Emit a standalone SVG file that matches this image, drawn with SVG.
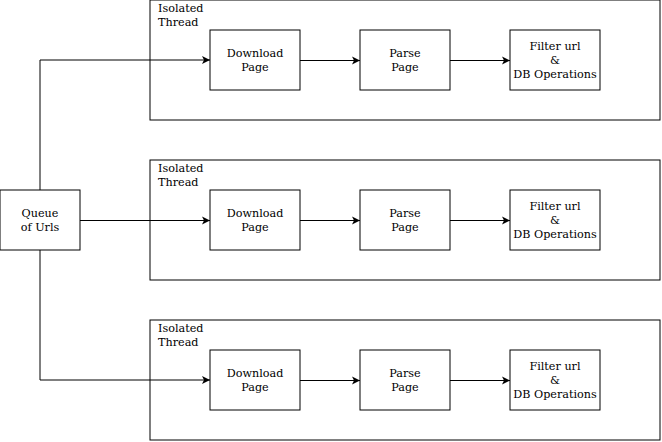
<svg xmlns="http://www.w3.org/2000/svg" width="662" height="442" viewBox="0 0 662 442">
<defs>
<marker id="arr" markerWidth="10" markerHeight="10" refX="8" refY="5" orient="auto" markerUnits="userSpaceOnUse">
<path d="M0,1 L8,5 L0,9 L2,5 Z" fill="#000"/>
</marker>
<style>
.box{fill:#fff;stroke:#000;stroke-width:1}
.cont{fill:none;stroke:#000;stroke-width:1}
.t{font-family:"DejaVu Serif","Liberation Serif",serif;font-size:11.2px;fill:#000}
.c{text-anchor:middle}
.e{fill:none;stroke:#000;stroke-width:1}
</style>
</defs>
<rect width="662" height="442" fill="#fff"/>
<g id="thread1">
<rect class="cont" x="150" y="0" width="510" height="120"/>
<text class="t" x="158" y="12">Isolated</text>
<text class="t" x="158" y="26">Thread</text>
</g>
<g id="thread2">
<rect class="cont" x="150" y="160" width="510" height="120"/>
<text class="t" x="158" y="172">Isolated</text>
<text class="t" x="158" y="186">Thread</text>
</g>
<g id="thread3">
<rect class="cont" x="150" y="320" width="510" height="120"/>
<text class="t" x="158" y="332">Isolated</text>
<text class="t" x="158" y="346">Thread</text>
</g>
<g id="connectors">
<path class="e" d="M40,190 L40,60 L210,60" marker-end="url(#arr)"/>
<path class="e" d="M80,220.5 L210,220.5" marker-end="url(#arr)"/>
<path class="e" d="M40,250 L40,380 L210,380" marker-end="url(#arr)"/>
<path class="e" d="M300,60.5 L360,60.5" marker-end="url(#arr)"/>
<path class="e" d="M450,60.5 L510,60.5" marker-end="url(#arr)"/>
<path class="e" d="M300,220.5 L360,220.5" marker-end="url(#arr)"/>
<path class="e" d="M450,220.5 L510,220.5" marker-end="url(#arr)"/>
<path class="e" d="M300,380.5 L360,380.5" marker-end="url(#arr)"/>
<path class="e" d="M450,380.5 L510,380.5" marker-end="url(#arr)"/>
</g>
<g id="queue">
<rect class="box" x="0" y="190" width="80" height="60"/>
<text class="t c" x="40" y="217">Queue</text>
<text class="t c" x="40" y="231">of Urls</text>
</g>
<g id="download1">
<rect class="box" x="210" y="30" width="90" height="60"/>
<text class="t c" x="255" y="57">Download</text>
<text class="t c" x="255" y="71">Page</text>
</g>
<g id="parse1">
<rect class="box" x="360" y="30" width="90" height="60"/>
<text class="t c" x="405" y="57">Parse</text>
<text class="t c" x="405" y="71">Page</text>
</g>
<g id="filter1">
<rect class="box" x="510" y="30" width="90" height="60"/>
<text class="t c" x="555" y="50">Filter url</text>
<text class="t c" x="555" y="64">&amp;</text>
<text class="t c" x="555" y="78">DB Operations</text>
</g>
<g id="download2">
<rect class="box" x="210" y="190" width="90" height="60"/>
<text class="t c" x="255" y="217">Download</text>
<text class="t c" x="255" y="231">Page</text>
</g>
<g id="parse2">
<rect class="box" x="360" y="190" width="90" height="60"/>
<text class="t c" x="405" y="217">Parse</text>
<text class="t c" x="405" y="231">Page</text>
</g>
<g id="filter2">
<rect class="box" x="510" y="190" width="90" height="60"/>
<text class="t c" x="555" y="210">Filter url</text>
<text class="t c" x="555" y="224">&amp;</text>
<text class="t c" x="555" y="238">DB Operations</text>
</g>
<g id="download3">
<rect class="box" x="210" y="350" width="90" height="60"/>
<text class="t c" x="255" y="377">Download</text>
<text class="t c" x="255" y="391">Page</text>
</g>
<g id="parse3">
<rect class="box" x="360" y="350" width="90" height="60"/>
<text class="t c" x="405" y="377">Parse</text>
<text class="t c" x="405" y="391">Page</text>
</g>
<g id="filter3">
<rect class="box" x="510" y="350" width="90" height="60"/>
<text class="t c" x="555" y="370">Filter url</text>
<text class="t c" x="555" y="384">&amp;</text>
<text class="t c" x="555" y="398">DB Operations</text>
</g>
</svg>
